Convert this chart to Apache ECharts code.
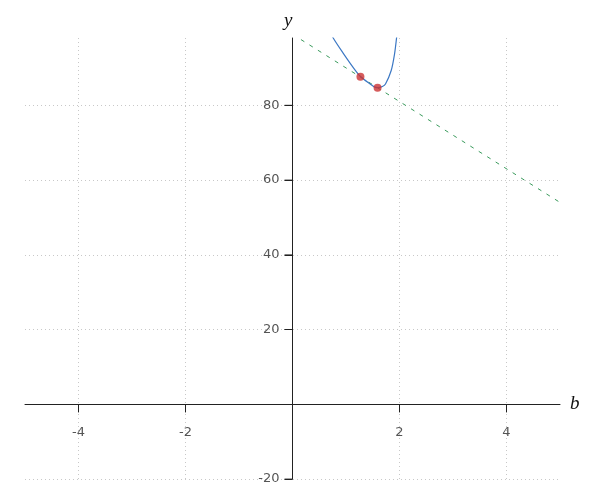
<!DOCTYPE html>
<html><head><meta charset="utf-8">
<script src="https://cdn.jsdelivr.net/npm/echarts@6/dist/echarts.min.js"></script>
<style>html,body{margin:0;padding:0;background:#fff}#c{width:600px;height:500px}</style>
</head><body><div id="c"></div>
<script>
var curveB = [0.70, 0.761, 0.959, 1.146, 1.271, 1.458, 1.52, 1.594, 1.68, 1.738, 1.845, 1.907, 1.944, 1.96];
var curveY = [100, 98.0, 93.7, 89.9, 87.7, 85.6, 85.0, 84.7, 85.0, 85.7, 89.3, 93.7, 97.9, 100.5];
var lineB = [0, 5];
var lineY = [99, 54];
var pointB = [1.27, 1.59];
var pointY = [87.6, 84.7];
var xTicks = [-4, -2, 2, 4];
var yTicks = [-20, 20, 40, 60, 80];

function zip(a, b) { return a.map(function (v, i) { return [v, b[i]]; }); }

var chart = echarts.init(document.getElementById('c'), null, {renderer: 'canvas'});
var labelStyle = {color: '#2a2a2a', fontSize: 13, fontFamily: 'DejaVu Sans'};
var nameStyle = {color: '#111', fontSize: 19, fontStyle: 'italic', fontFamily: 'Liberation Serif'};
chart.setOption({
  animation: false,
  grid: {left: 25, right: 40, top: 38, bottom: 21, containLabel: false, outerBoundsMode: 'none'},
  xAxis: {
    type: 'value', min: -5, max: 5, interval: 1,
    name: 'b', nameLocation: 'end', nameGap: 10, nameTextStyle: Object.assign({padding: [6, 0, 0, 0]}, nameStyle),
    axisLine: {onZero: true, lineStyle: {color: '#222', width: 1}},
    axisTick: {show: true, length: 8, customValues: xTicks, lineStyle: {color: '#222'}},
    axisLabel: {show: true, customValues: xTicks, color: 'rgba(0,0,0,0)', fontSize: 13},
    splitLine: {show: true, lineStyle: {type: [1, 3], color: '#c8c8c8'}}
  },
  yAxis: {
    type: 'value', min: -20, max: 98, interval: 20,
    name: 'y', nameLocation: 'end', nameGap: 8, nameTextStyle: Object.assign({align: 'right'}, nameStyle),
    axisLine: {onZero: true, lineStyle: {color: '#222', width: 1}},
    axisTick: {show: true, length: 8, customValues: yTicks, lineStyle: {color: '#222'}},
    axisLabel: {show: true, customValues: yTicks, color: 'rgba(0,0,0,0)', fontSize: 13},
    splitLine: {show: true, lineStyle: {type: [1, 3], color: '#c8c8c8'}}
  },
  series: [
    {type: 'line', data: zip(lineB, lineY), symbol: 'none', clip: true,
     lineStyle: {color: '#3a9a5c', width: 1, type: [4, 6]}, z: 2},
    {type: 'line', data: zip(curveB, curveY), symbol: 'none', smooth: 0.3, clip: true,
     lineStyle: {color: '#3c78c4', width: 1.2}, z: 3},
    {type: 'scatter', data: zip(pointB, pointY), symbolSize: 8,
     itemStyle: {color: '#cc3333'}, z: 4},
    {type: 'scatter', silent: true, symbol: 'rect', symbolSize: [1, 8], symbolOffset: [0, 4], clip: false,
     itemStyle: {color: '#222'},
     data: xTicks.map(function (v) { return [v, 0]; }),
     label: Object.assign({show: true, position: 'bottom', distance: 14,
       formatter: function (p) { return String(p.value[0]); }}, labelStyle)},
    {type: 'scatter', silent: true, symbol: 'rect', symbolSize: [8, 1], symbolOffset: [-4, 0], clip: false,
     itemStyle: {color: '#222'},
     data: yTicks.map(function (v) { return [0, v]; }),
     label: Object.assign({show: true, position: 'left', distance: 5,
       formatter: function (p) { return String(p.value[1]); }}, labelStyle)}
  ]
});
</script></body></html>
